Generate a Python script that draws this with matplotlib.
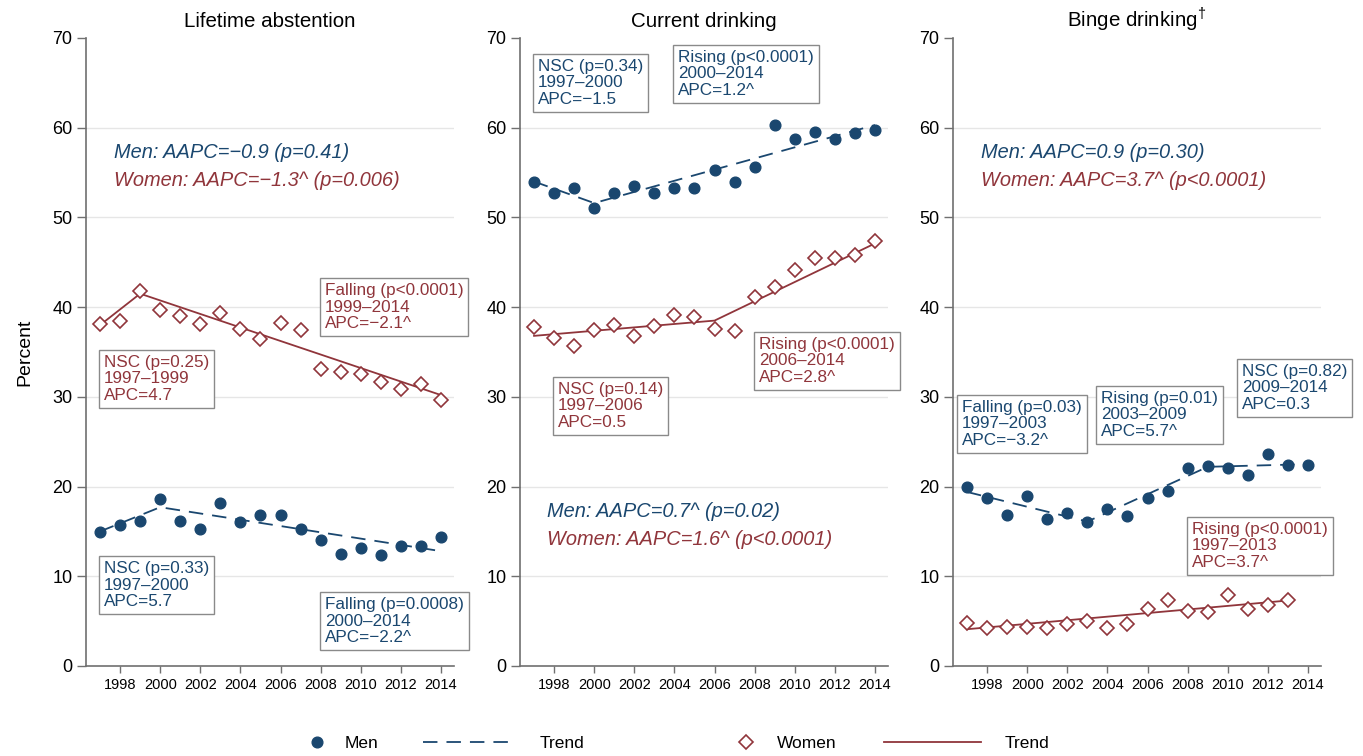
import matplotlib.pyplot as plt
from matplotlib.lines import Line2D

plt.rcParams['font.family'] = ['Liberation Sans', 'DejaVu Sans']
plt.rcParams['mathtext.fontset'] = 'custom'
plt.rcParams['mathtext.rm'] = 'Liberation Sans'

navy = '#1a476f'
maroon = '#90353b'
axcol = '#707070'

years = list(range(1997, 2015))

# lifetime abstention
abst_men = [14.9, 15.7, 16.2, 18.6, 16.2, 15.3, 18.2, 16.0, 16.8, 16.8,
            15.3, 14.0, 12.5, 13.2, 12.4, 13.4, 13.4, 14.4]
abst_women = [38.1, 38.5, 41.8, 39.7, 39.0, 38.1, 39.3, 37.6, 36.5, 38.2,
              37.5, 33.1, 32.8, 32.5, 31.7, 30.9, 31.4, 29.7]
abst_men_jp = [1997, 2000, 2014]
abst_men_tr = [15.0, 17.7, 12.8]
abst_women_jp = [1997, 1999, 2014]
abst_women_tr = [38.0, 41.5, 30.2]

# current drinking
curr_men = [54.0, 52.7, 53.3, 51.1, 52.7, 53.5, 52.7, 53.3, 53.3, 55.3,
            54.0, 55.6, 60.3, 58.7, 59.5, 58.7, 59.4, 59.8]
curr_women = [37.8, 36.6, 35.7, 37.4, 38.0, 36.8, 37.9, 39.1, 38.9, 37.6,
              37.3, 41.1, 42.2, 44.1, 45.5, 45.5, 45.8, 47.4]
curr_men_jp = [1997, 2000, 2014]
curr_men_tr = [54.0, 51.6, 60.3]
curr_women_jp = [1997, 2006, 2014]
curr_women_tr = [36.8, 38.5, 47.1]

# binge drinking (women only to 2013)
binge_men = [19.9, 18.7, 16.8, 19.0, 16.4, 17.0, 16.0, 17.5, 16.7, 18.7,
             19.5, 22.1, 22.3, 22.1, 21.3, 23.6, 22.4, 22.4]
binge_women = [4.8, 4.2, 4.3, 4.3, 4.2, 4.7, 5.0, 4.2, 4.7, 6.3,
               7.4, 6.1, 6.0, 7.9, 6.4, 6.8, 7.4]
binge_men_jp = [1997, 2003, 2009, 2014]
binge_men_tr = [19.4, 16.1, 22.2, 22.5]
binge_women_jp = [1997, 2013]
binge_women_tr = [4.1, 7.3]

titles = ['Lifetime abstention', 'Current drinking', r'Binge drinking$^{\dagger}$']

fig = plt.figure(figsize=(13.63, 7.56), dpi=100)
lefts = [86, 520, 953]
axes = []
for lp in lefts:
    ax = fig.add_axes([lp / 1363, 1 - 666 / 756, 368 / 1363, 628 / 756])
    axes.append(ax)

panels = [
    (abst_men, abst_women, abst_men_jp, abst_men_tr, abst_women_jp, abst_women_tr),
    (curr_men, curr_women, curr_men_jp, curr_men_tr, curr_women_jp, curr_women_tr),
    (binge_men, binge_women, binge_men_jp, binge_men_tr, binge_women_jp, binge_women_tr),
]

for ax, title, (m, w, mjx, mjy, wjx, wjy) in zip(axes, titles, panels):
    ax.set_xlim(1996.3, 2014.65)
    ax.set_ylim(0, 70)
    ax.set_yticks(range(0, 80, 10))
    ax.set_xticks(range(1998, 2015, 2))
    for y in range(10, 70, 10):
        ax.axhline(y, color='#e6e6e6', lw=1, zorder=0)
    ax.plot(mjx, mjy, color=navy, lw=1.3, ls=(0, (8, 5)), zorder=2)
    ax.plot(wjx, wjy, color=maroon, lw=1.3, zorder=2)
    ax.plot(years, m, 'o', color=navy, ms=7.7, zorder=3)
    ax.plot(years[:len(w)], w, 'D', mfc='white', mec=maroon, mew=1.2, ms=7.6, zorder=3)
    for s in ['top', 'right']:
        ax.spines[s].set_visible(False)
    for s in ['left', 'bottom']:
        ax.spines[s].set_color(axcol)
        ax.spines[s].set_linewidth(1.2)
    ax.tick_params(axis='y', length=6.3, width=1, color=axcol, labelsize=13, pad=3.5)
    ax.tick_params(axis='x', length=4.8, width=1, color=axcol, labelsize=10.5, pad=3.5)
    ax.set_title(title, fontsize=14.8, pad=8)

box = dict(boxstyle='square,pad=0.3', fc='white', ec='#8a8a8a', lw=1)
tkw = dict(fontsize=12.3, linespacing=1.12, ha='left', va='center', bbox=box, zorder=5)
ikw = dict(style='italic', fontsize=14.4, va='center')

a1, a2, a3 = axes
a1.text(1997.7, 57.2, 'Men: AAPC=\u22120.9 (p=0.41)', color=navy, **ikw)
a1.text(1997.7, 54.1, 'Women: AAPC=\u22121.3^ (p=0.006)', color=maroon, **ikw)
a1.text(2008.2, 40.0, 'Falling (p<0.0001)\n1999\u20132014\nAPC=\u22122.1^', color=maroon, **tkw)
a1.text(1997.2, 32.0, 'NSC (p=0.25)\n1997\u20131999\nAPC=4.7', color=maroon, **tkw)
a1.text(1997.2, 9.0, 'NSC (p=0.33)\n1997\u20132000\nAPC=5.7', color=navy, **tkw)
a1.text(2008.2, 5.0, 'Falling (p=0.0008)\n2000\u20132014\nAPC=\u22122.2^', color=navy, **tkw)

a2.text(1997.2, 65.0, 'NSC (p=0.34)\n1997\u20132000\nAPC=\u22121.5', color=navy, **tkw)
a2.text(2004.2, 66.0, 'Rising (p<0.0001)\n2000\u20132014\nAPC=1.2^', color=navy, **tkw)
a2.text(2008.2, 34.0, 'Rising (p<0.0001)\n2006\u20132014\nAPC=2.8^', color=maroon, **tkw)
a2.text(1998.2, 29.0, 'NSC (p=0.14)\n1997\u20132006\nAPC=0.5', color=maroon, **tkw)
a2.text(1997.65, 17.2, 'Men: AAPC=0.7^ (p=0.02)', color=navy, **ikw)
a2.text(1997.65, 14.05, 'Women: AAPC=1.6^ (p<0.0001)', color=maroon, **ikw)

a3.text(1997.7, 57.2, 'Men: AAPC=0.9 (p=0.30)', color=navy, **ikw)
a3.text(1997.7, 54.1, 'Women: AAPC=3.7^ (p<0.0001)', color=maroon, **ikw)
a3.text(1996.75, 27.0, 'Falling (p=0.03)\n1997\u20132003\nAPC=\u22123.2^', color=navy, **tkw)
a3.text(2003.7, 28.0, 'Rising (p=0.01)\n2003\u20132009\nAPC=5.7^', color=navy, **tkw)
a3.text(2010.7, 31.0, 'NSC (p=0.82)\n2009\u20132014\nAPC=0.3', color=navy, **tkw)
a3.text(2008.2, 13.4, 'Rising (p<0.0001)\n1997\u20132013\nAPC=3.7^', color=maroon, **tkw)

fig.text(25 / 1363, 1 - 352 / 756, 'Percent', rotation=90, ha='center', va='center', fontsize=14)

# legend keys, placed one by one to match the spacing
keys = [
    (Line2D([], [], ls='none', marker='o', color=navy, ms=7.7), 'Men', 0.226, 1.0, 1.13),
    (Line2D([], [], color=navy, lw=1.3, ls=(0, (8, 5))), 'Trend', 0.3101, 5.1, 1.63),
    (Line2D([], [], ls='none', marker='D', mfc='white', mec=maroon, mew=1.2, ms=7.6), 'Women', 0.5407, 1.0, 1.28),
    (Line2D([], [], color=maroon, lw=1.3), 'Trend', 0.6486, 5.6, 1.34),
]
for h, lab, x, hl, pad in keys:
    fig.legend([h], [lab], loc='center left', bbox_to_anchor=(x, 1 - 743 / 756),
               frameon=False, borderpad=0, borderaxespad=0, handlelength=hl,
               handletextpad=pad, fontsize=12.5)

fig.savefig('out.png', dpi=100)
